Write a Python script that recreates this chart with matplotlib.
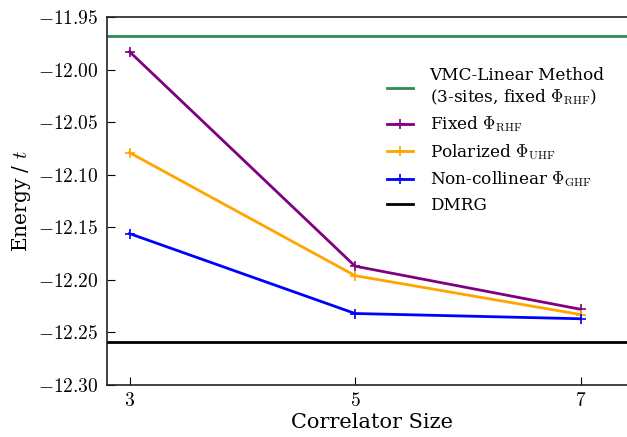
import matplotlib
matplotlib.use("Agg")
import matplotlib.pyplot as plt

sizes = [3, 5, 7]
fixed_rhf = [-11.983, -12.187, -12.228]
polarized_uhf = [-12.079, -12.196, -12.233]
noncollinear_ghf = [-12.156, -12.232, -12.237]
vmc_linear = -11.968
dmrg = -12.259

plt.rcParams['font.family'] = 'DejaVu Serif'
plt.rcParams['mathtext.fontset'] = 'cm'

fig = plt.figure(figsize=(6.27, 4.37), dpi=100)
ax = fig.add_axes([107 / 627, 52 / 437, 530 / 627, 368 / 437])

ax.axhline(vmc_linear, color='seagreen', lw=2,
           label='VMC-Linear Method\n(3-sites, fixed $\\Phi_{\\mathrm{RHF}}$)')
ax.plot(sizes, fixed_rhf, color='purple', lw=2, marker='+', ms=7, mew=1.2,
        label='Fixed $\\Phi_{\\mathrm{RHF}}$')
ax.plot(sizes, polarized_uhf, color='orange', lw=2, marker='+', ms=7, mew=1.2,
        label='Polarized $\\Phi_{\\mathrm{UHF}}$')
ax.plot(sizes, noncollinear_ghf, color='blue', lw=2, marker='+', ms=7, mew=1.2,
        label='Non-collinear $\\Phi_{\\mathrm{GHF}}$')
ax.axhline(dmrg, color='black', lw=2, label='DMRG')

ax.set_xlim(2.8, 7.5)
ax.set_ylim(-12.30, -11.95)
ax.set_xticks(sizes)
ax.set_xticklabels(['$%d$' % s for s in sizes], fontsize=14)
yticks = [-12.30, -12.25, -12.20, -12.15, -12.10, -12.05, -12.00, -11.95]
ax.set_yticks(yticks)
ax.set_yticklabels(['$%.2f$' % y for y in yticks], fontsize=14)
ax.tick_params(direction='in', length=6, top=False, right=False)
ax.tick_params(axis='x', pad=5)
ax.tick_params(axis='y', pad=6)
for s in ax.spines.values():
    s.set_color('#222222')
    s.set_linewidth(1.2)

ax.set_xlabel('Correlator Size', fontsize=15, labelpad=2)
ax.set_ylabel('Energy / $t$', fontsize=14.5, labelpad=4)

ax.legend(loc='upper left', bbox_to_anchor=(0.50, 0.905), frameon=False,
          fontsize=12.2, handlelength=1.5, handletextpad=1.0, labelspacing=0.45)

fig.savefig('out.png', dpi=100)
